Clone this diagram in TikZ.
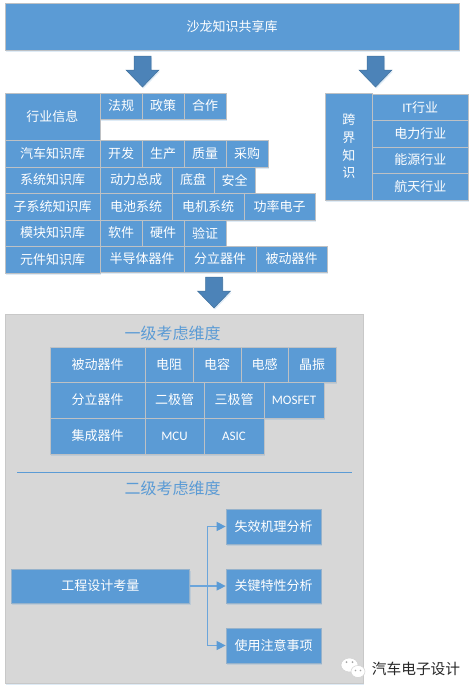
\documentclass[tikz,border=0pt]{standalone}
\usepackage{fontspec}
\setmainfont{Noto Sans CJK SC}
\newfontfamily\latinf{Carlito}
\usetikzlibrary{shadows,arrows.meta}
\definecolor{bxblue}{HTML}{5B9BD5}
\definecolor{bxedge}{HTML}{BEC1C4}
\definecolor{arrblue}{HTML}{4C83B8}
\definecolor{arredge}{HTML}{41719C}
\definecolor{panelgray}{HTML}{D7D7D7}
\definecolor{paneledge}{HTML}{C8C8C8}
\definecolor{conncol}{HTML}{6BA5DB}
\tikzset{
  softshadow/.style={drop shadow={shadow xshift=1pt,shadow yshift=-1.5pt,fill=bxblue,opacity=.2}},
  bxstyle/.style={draw=bxedge,line width=0.9pt,fill=bxblue,text=white,inner sep=0pt,align=center,
    font=\fontsize{13}{15}\selectfont,softshadow},
  plainbx/.style={fill=bxblue,text=white,inner sep=0pt,align=center,draw=bxedge!60!bxblue,line width=0.7pt,
    font=\fontsize{13}{15}\selectfont,softshadow},
  panel/.style={draw=paneledge,line width=1pt,fill=panelgray,inner sep=0pt,softshadow},
  heading/.style={text=bxblue,inner sep=0pt,font=\fontsize{16}{18}\selectfont},
  conn/.style={draw=conncol,line width=1.1pt},
  connarrow/.style={conn,-{Triangle[length=9pt,width=9pt,color=bxblue]}},
  blockarrow/.style={fill=arrblue,draw=arredge,line width=0.5pt,drop shadow={shadow xshift=1pt,shadow yshift=-1.5pt,fill=bxblue,opacity=.2}},
  latintext/.style={font=\latinf\fontsize{13}{15}\selectfont},
}
% name, x1, y1, x2, y2, style, text
\newcommand{\bxat}[7]{\node[#6,minimum width={(#4-#2)*1pt},minimum height={(#5-#3)*1pt}] (#1) at ({(#2+#4)/2},{(#3+#5)/2}) {#7};}
% centre x, top y
\newcommand{\blockarr}[2]{\draw[blockarrow] (#1-8.5,#2) -- (#1+8.5,#2) -- (#1+8.5,#2+14) -- (#1+16.5,#2+14) -- (#1,#2+31) -- (#1-16.5,#2+14) -- (#1-8.5,#2+14) -- cycle;}
\begin{document}
\begin{tikzpicture}[x=1pt,y=-1pt]
\useasboundingbox (0,0) rectangle (474,691);
\fill[white] (0,0) rectangle (474,691);
\bxat{top}{5}{3}{459}{50}{bxstyle}{沙龙知识共享库}
\blockarr{142.5}{56}
\blockarr{375.5}{56}
% left block
\bxat{hy}{5}{93}{100}{140}{bxstyle}{行业信息}
\bxat{fg}{100}{93}{142}{119}{bxstyle}{法规}
\bxat{zc}{142}{93}{184}{119}{bxstyle}{政策}
\bxat{hz}{184}{93}{226}{119}{bxstyle}{合作}
\bxat{qc}{5}{140}{100}{167}{bxstyle}{汽车知识库}
\bxat{kf}{100}{140}{142}{167}{bxstyle}{开发}
\bxat{sc}{142}{140}{184}{167}{bxstyle}{生产}
\bxat{zl}{184}{140}{226}{167}{bxstyle}{质量}
\bxat{cg}{226}{140}{268}{167}{bxstyle}{采购}
\bxat{xt}{5}{167}{100}{193}{bxstyle}{系统知识库}
\bxat{dl}{100}{167}{172}{193}{bxstyle}{动力总成}
\bxat{dp}{172}{167}{214}{193}{bxstyle}{底盘}
\bxat{aq}{214}{167}{255}{193}{bxstyle}{安全}
\bxat{zx}{5}{193}{100}{220}{bxstyle}{子系统知识库}
\bxat{dc}{100}{193}{172}{220}{bxstyle}{电池系统}
\bxat{dj}{172}{193}{244}{220}{bxstyle}{电机系统}
\bxat{gl}{244}{193}{315}{220}{bxstyle}{功率电子}
\bxat{mk}{5}{220}{100}{246}{bxstyle}{模块知识库}
\bxat{rj}{100}{220}{142}{246}{bxstyle}{软件}
\bxat{yj}{142}{220}{184}{246}{bxstyle}{硬件}
\bxat{yz}{184}{220}{226}{246}{bxstyle}{验证}
\bxat{yjk}{5}{246}{100}{273}{bxstyle}{元件知识库}
\bxat{bd}{100}{246}{184}{272}{bxstyle}{半导体器件}
\bxat{fl}{184}{246}{256}{272}{bxstyle}{分立器件}
\bxat{bdq}{256}{246}{327}{272}{bxstyle}{被动器件}
% right block
\bxat{kj}{325}{93}{372.5}{200}{bxstyle}{跨\\[2.7pt]界\\[2.7pt]知\\[2.7pt]识}
\bxat{it}{372.5}{94}{468}{120.5}{bxstyle}{{\latinf IT}行业}
\bxat{dli}{372.5}{120.5}{468}{147}{bxstyle}{电力行业}
\bxat{ny}{372.5}{147}{468}{173}{bxstyle}{能源行业}
\bxat{ht}{372.5}{173}{468}{200}{bxstyle}{航天行业}
\blockarr{214}{277}
% panel
\bxat{pan}{5}{314}{363}{683}{panel}{}
\node[heading] (h1) at (172.7,333) {一级考虑维度};
\bxat{bdj}{50}{347}{145}{382}{bxstyle}{被动器件}
\bxat{dz}{145}{347}{193}{382}{bxstyle}{电阻}
\bxat{dr}{193}{347}{241}{382}{bxstyle}{电容}
\bxat{dg}{241}{347}{288}{382}{bxstyle}{电感}
\bxat{jz}{288}{347}{336}{382}{bxstyle}{晶振}
\bxat{flq}{50}{382}{145}{418}{bxstyle}{分立器件}
\bxat{ej}{145}{382}{204}{418}{bxstyle}{二极管}
\bxat{sj}{204}{382}{264}{418}{bxstyle}{三极管}
\bxat{mos}{264}{382}{324}{418}{bxstyle,latintext}{MOSFET}
\bxat{jc}{50}{418}{145}{454}{bxstyle}{集成器件}
\bxat{mcu}{145}{418}{204}{454}{bxstyle,latintext}{MCU}
\bxat{asic}{204}{418}{264}{454}{bxstyle,latintext}{ASIC}
\coordinate (la) at (17,472);
\coordinate (lb) at (352,472);
\draw[draw=bxblue,line width=0.8pt] (la) -- (lb);
\node[heading] (h2) at (172.7,488) {二级考虑维度};
\bxat{eng}{11}{569}{189.5}{603}{plainbx}{工程设计考量}
\bxat{f1}{226}{509}{321}{544}{plainbx}{失效机理分析}
\bxat{f2}{226}{569}{321}{603}{plainbx}{关键特性分析}
\bxat{f3}{226}{628}{321}{663}{plainbx}{使用注意事项}
\coordinate (tr) at (207.5,586);
\draw[connarrow] (eng.east) -- (f2.west);
\draw[connarrow] (tr) |- (f1.west);
\draw[connarrow] (tr) |- (f3.west);
% watermark
\fill[white,draw=black!18,line width=0.5pt] (349.5,665) ellipse [x radius=8.5,y radius=7];
\fill[white,draw=black!18,line width=0.5pt] (358,671.5) ellipse [x radius=7,y radius=6];
\fill[black!35] (346.5,662) circle (1) (352.5,662) circle (1) (355.5,670.5) circle (0.8) (360.5,670.5) circle (0.8);
\node[inner sep=0pt,text=black!85,font=\fontsize{14.7}{16}\selectfont] (wm) at (416,669) {汽车电子设计};
\end{tikzpicture}
\end{document}
